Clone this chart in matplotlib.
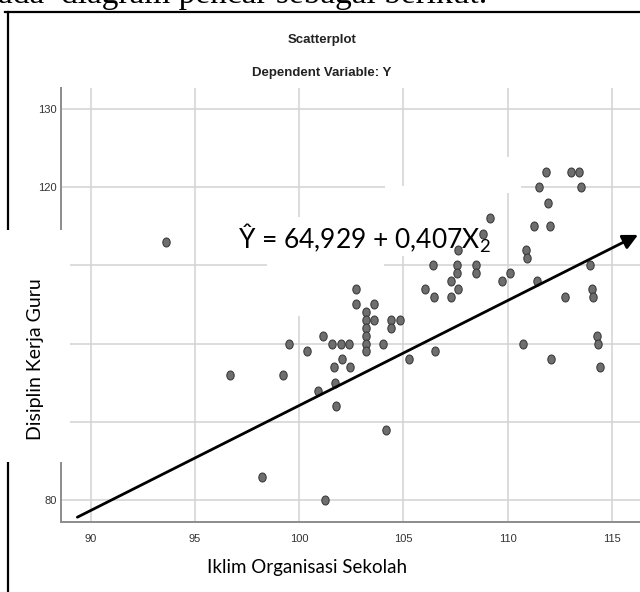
import matplotlib
matplotlib.use("Agg")
import matplotlib.pyplot as plt
import matplotlib.font_manager as fm
from matplotlib.path import Path
from matplotlib.patches import Rectangle
from matplotlib.lines import Line2D
import numpy as np

# ---------------- data ----------------
x_vals = [93.64, 96.71, 99.23, 99.52, 100.37, 100.92, 98.21, 101.14, 101.58, 102.00,
          102.41, 103.19, 103.19, 103.19, 103.19, 103.19, 103.19, 104.04, 102.04, 101.67,
          102.46, 101.72, 101.78, 104.17, 101.26, 105.29, 106.52, 110.72, 112.09, 114.29,
          114.34, 114.45, 102.71, 102.74, 103.58, 103.60, 104.42, 104.43, 104.84, 106.03,
          106.46, 107.27, 107.62, 107.27, 106.41, 107.60, 107.60, 108.47, 108.47, 107.61,
          108.81, 109.18, 109.72, 110.12, 110.91, 110.94, 111.42, 111.25, 112.05, 111.96,
          111.49, 113.51, 111.87, 113.03, 113.42, 113.96, 114.07, 114.10, 112.76]
y_vals = [113, 96, 96, 100, 99, 94, 83, 101, 100, 100,
          100, 104, 103, 102, 101, 100, 99, 100, 98, 97,
          97, 95, 92, 89, 80, 98, 99, 100, 98, 101,
          100, 97, 107, 105, 105, 103, 103, 102, 103, 107,
          106, 106, 107, 108, 110, 110, 109, 110, 109, 112,
          114, 116, 108, 109, 112, 111, 108, 115, 115, 118,
          120, 120, 122, 122, 122, 110, 107, 106, 106]
x_ticks = [90, 95, 100, 105, 110, 115]
x_tick_labels = ["90", "95", "100", "105", "110", "115"]
y_ticks = [80, 90, 100, 110, 120, 130]
# labels 90-110 are hidden behind the pasted axis-title box in the reference
y_tick_labels = ["80", "", "", "", "120", "130"]
arrow_x = [89.37, 116.26]
arrow_y = [77.8, 113.9]

title = "Scatterplot"
subtitle = "Dependent Variable: Y"
x_label = "Iklim Organisasi Sekolah"
y_label = "Disiplin Kerja Guru"
equation = "Ŷ = 64,929 + 0,407X$_2$"
top_text = "ada  diagram pencar sebagai berikut."

# ---------------- fonts ----------------
names = {f.name for f in fm.fontManager.ttflist}
narrow = "Liberation Sans Narrow" if "Liberation Sans Narrow" in names else "Liberation Sans"
plt.rcParams["mathtext.fontset"] = "custom"
plt.rcParams["mathtext.rm"] = "Lato"
plt.rcParams["mathtext.it"] = "Lato"

W, H = 640, 592
fig = plt.figure(figsize=(W / 100, H / 100), dpi=100)

def fx(px):
    return px / W

def fy(py):
    return 1 - py / H

# axes placement (pixels)
L, R, T, B = 61, 640, 88, 522
ax = fig.add_axes([fx(L), fy(B), fx(R) - fx(L), fy(T) - fy(B)])

# pixel calibration of the chart's scales
px90, px_per_x = 90.5, 20.85
py80, py_per_y = 500.0, 7.82
ax.set_xlim(90 + (L - px90) / px_per_x, 90 + (R - px90) / px_per_x)
ax.set_ylim(80 - (B - py80) / py_per_y, 80 + (py80 - T) / py_per_y)

ax.set_xticks(x_ticks)
ax.set_xticklabels(x_tick_labels)
ax.set_yticks(y_ticks)
ax.set_yticklabels(y_tick_labels)
ax.grid(True, color="#d2d2d2", linewidth=1.1)
ax.set_axisbelow(True)
for s in ["top", "right"]:
    ax.spines[s].set_visible(False)
for s in ["left", "bottom"]:
    ax.spines[s].set_color("#8c8c8c")
    ax.spines[s].set_linewidth(1.4)
ax.tick_params(length=0, labelsize=8, labelcolor="#333333")
ax.tick_params(axis="x", pad=9)
ax.tick_params(axis="y", pad=3)
for lab in ax.get_xticklabels() + ax.get_yticklabels():
    lab.set_fontfamily(narrow)

# white patches that interrupt the gridlines (pixel boxes)
def white_box(x0, y0, x1, y1, z=1):
    r = Rectangle((fx(x0), fy(y1)), fx(x1) - fx(x0), fy(y0) - fy(y1),
                  transform=fig.transFigure, facecolor="white", edgecolor="none", zorder=z)
    ax.add_patch(r)

white_box(267, 217, 384, 316)
white_box(385, 186, 505, 256)
white_box(404, 157, 521, 193)

# scatter points (slightly tall ellipses)
t = np.linspace(0, 2 * np.pi, 60)
ell = Path(np.column_stack([0.82 * np.cos(t), np.sin(t)]), closed=True)
ax.scatter(x_vals, y_vals, marker=ell, s=42, facecolor="#6e6e6e",
           edgecolor="#333333", linewidth=0.7, zorder=3)

# hand drawn arrow
ax.annotate("", xy=(arrow_x[1], arrow_y[1]), xytext=(arrow_x[0], arrow_y[0]),
            arrowprops=dict(arrowstyle="-|>,head_length=0.9,head_width=0.45",
                            color="black", lw=2.0, shrinkA=0, shrinkB=0),
            annotation_clip=False, zorder=4)

# equation
fig.text(fx(364), fy(238), equation, ha="center", va="center", fontsize=19,
         family=["Lato", "DejaVu Sans"], color="black", zorder=5)

# titles
fig.text(fx(322), fy(40), title, ha="center", va="center", fontsize=9.5,
         fontweight="bold", family=narrow, color="#222222")
fig.text(fx(322), fy(73), subtitle, ha="center", va="center", fontsize=9.5,
         fontweight="bold", family=narrow, color="#222222")

# frame lines
fig.add_artist(Line2D([fx(5), fx(640)], [fy(12), fy(12)], color="black", lw=1.6,
                      transform=fig.transFigure, zorder=0.9))
fig.add_artist(Line2D([fx(7.5), fx(7.5)], [fy(12), fy(592)], color="black", lw=1.6,
                      transform=fig.transFigure, zorder=0.9))

# white box for y label region
fig.add_artist(Rectangle((fx(0), fy(462)), fx(70), fy(230) - fy(462),
                         transform=fig.transFigure, facecolor="white",
                         edgecolor="none", zorder=1))

# axis labels (overlaid text)
fig.text(fx(36), fy(359), y_label, rotation=90, ha="center", va="center",
         fontsize=14, family="Lato", color="black", zorder=3)
fig.text(fx(307), fy(567), x_label, ha="center", va="center",
         fontsize=13.5, family="Lato", color="black", zorder=3)

# cut-off text at very top (as in the reference screenshot)
fig.text(fx(-2), fy(3), top_text, ha="left", va="baseline", fontsize=24,
         family="Liberation Serif", color="black")

fig.savefig("out.png", dpi=100)
